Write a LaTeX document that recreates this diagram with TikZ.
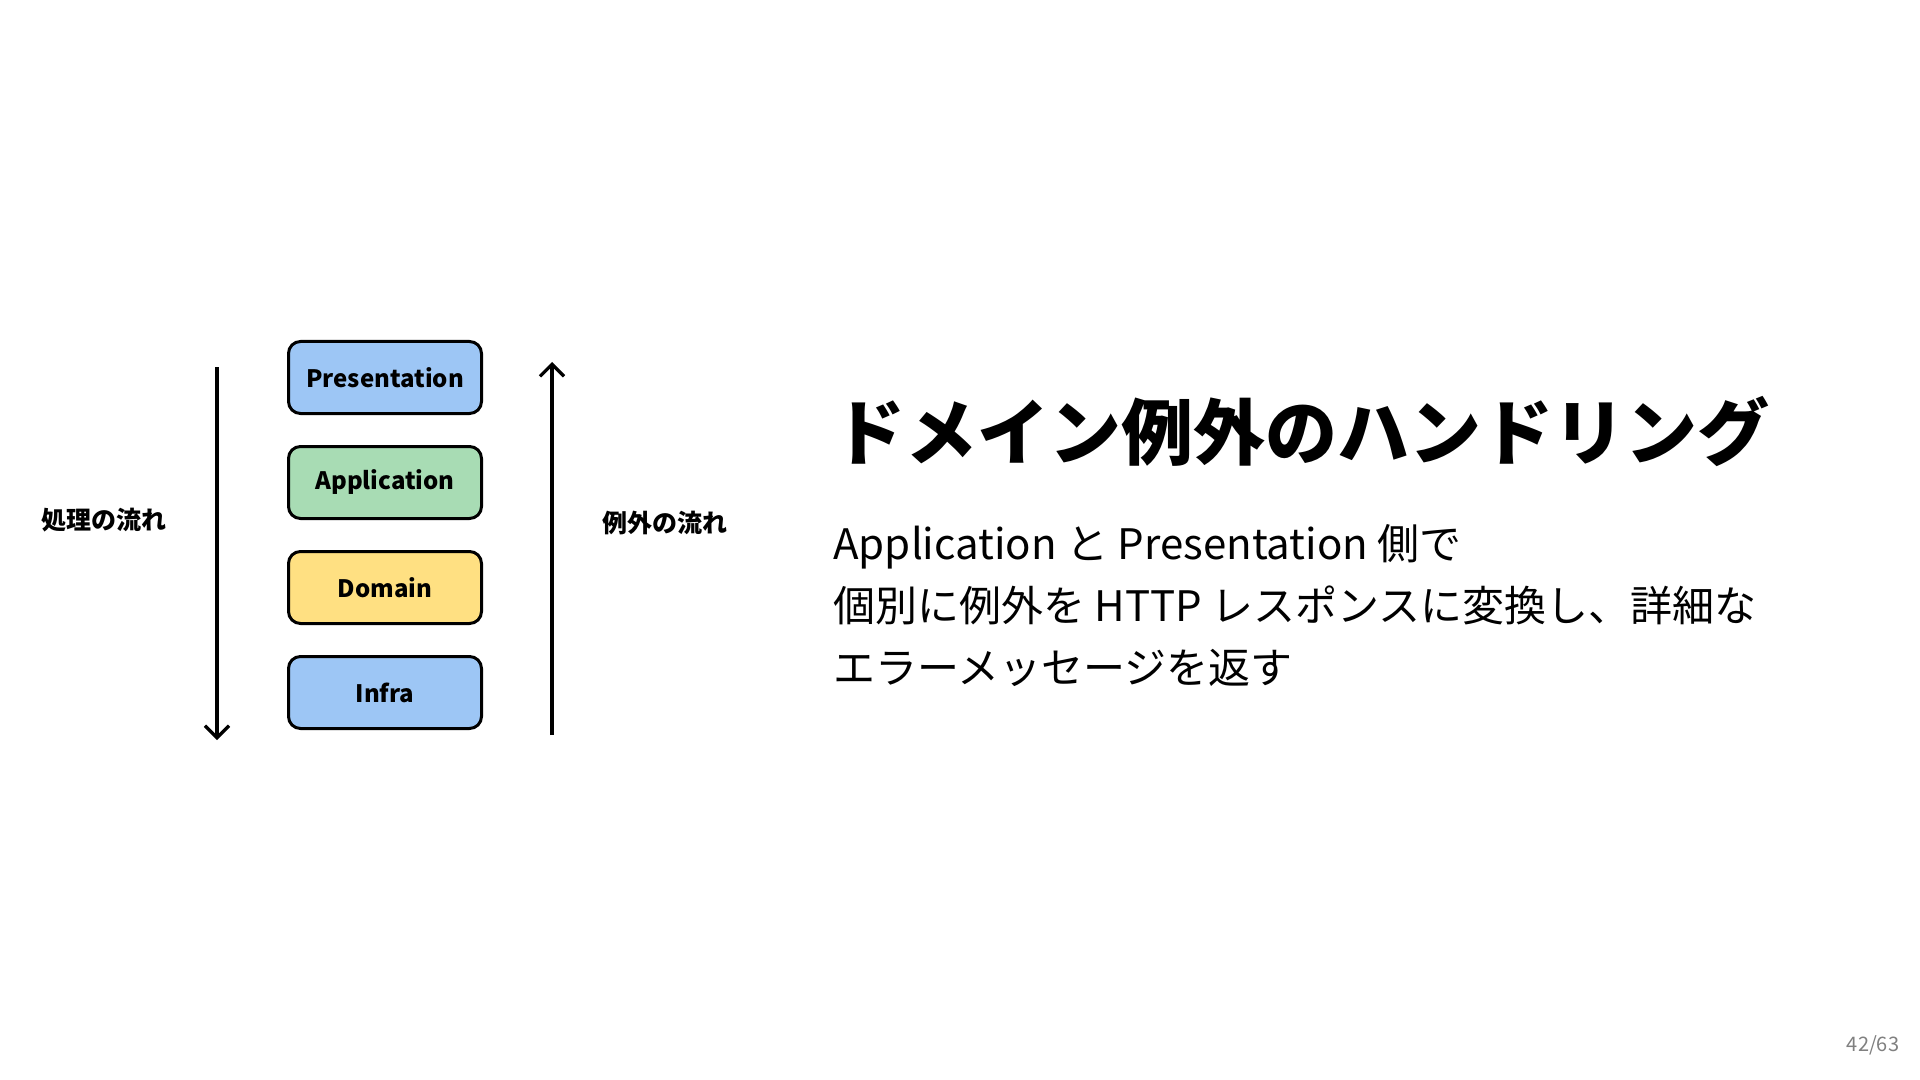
\documentclass[tikz,border=0pt]{standalone}
\usepackage{fontspec}
\setmainfont{Noto Sans CJK JP}
\usepackage{xcolor}
\definecolor{capaazul}{RGB}{157, 198, 245}
\definecolor{capaverde}{RGB}{168, 220, 180}
\definecolor{capaamarillo}{RGB}{255, 224, 130}
\definecolor{gris50}{gray}{.50}
\usepackage{tikz}
\usetikzlibrary{positioning,arrows.meta}

\begin{document}
\begin{tikzpicture}[
    x=0.5pt, y=-0.5pt,
    node distance=15pt,
    layer/.style={rectangle, draw=black, line width=1.5pt, rounded corners=6pt,
      minimum width=96.5pt, minimum height=36pt, inner sep=0pt,
      font=\fontsize{12}{14}\selectfont\bfseries},
    flowlabel/.style={font=\fontsize{12.5}{15}\selectfont\bfseries},
    flow/.style={line width=1.6pt, -{Straight Barb[length=6pt,width=12pt]}},
    >=Stealth
  ]
    \useasboundingbox[fill=white] (0,0) rectangle (1920,1080);

    % capas
    \node[layer, fill=capaazul] (pres) at (385,377.5) {Presentation};
    \node[layer, fill=capaverde, below=of pres] (app) {Application};
    \node[layer, fill=capaamarillo, below=of app] (dom) {Domain};
    \node[layer, fill=capaazul, below=of dom] (infra) {Infra};

    % flujos
    \coordinate (procA) at (217,367);
    \coordinate (procB) at (217,740);
    \coordinate (excA) at (552,735);
    \coordinate (excB) at (552,362);
    \draw[flow] (procA) -- (procB);
    \draw[flow] (excA) -- (excB);
    \node[flowlabel] (proclbl) at (104,520) {処理の流れ};
    \node[flowlabel] (exclbl) at (665,523) {例外の流れ};

    % texto
    \node[font=\fontsize{36}{44}\selectfont\bfseries, inner sep=0pt] (titulo)
      at (1301,431) {ドメイン例外のハンドリング};
    \node[font=\fontsize{21}{31}\selectfont, align=left, anchor=north west,
      inner sep=0pt] (cuerpo) at (833,524)
      {Application と Presentation 側で\\
       個別に例外を HTTP レスポンスに変換し、詳細な\\
       エラーメッセージを返す};

    \node[font=\fontsize{10}{12}\selectfont, text=gris50] (pagina)
      at (1873,1045) {42/63};
  \end{tikzpicture}
\end{document}
